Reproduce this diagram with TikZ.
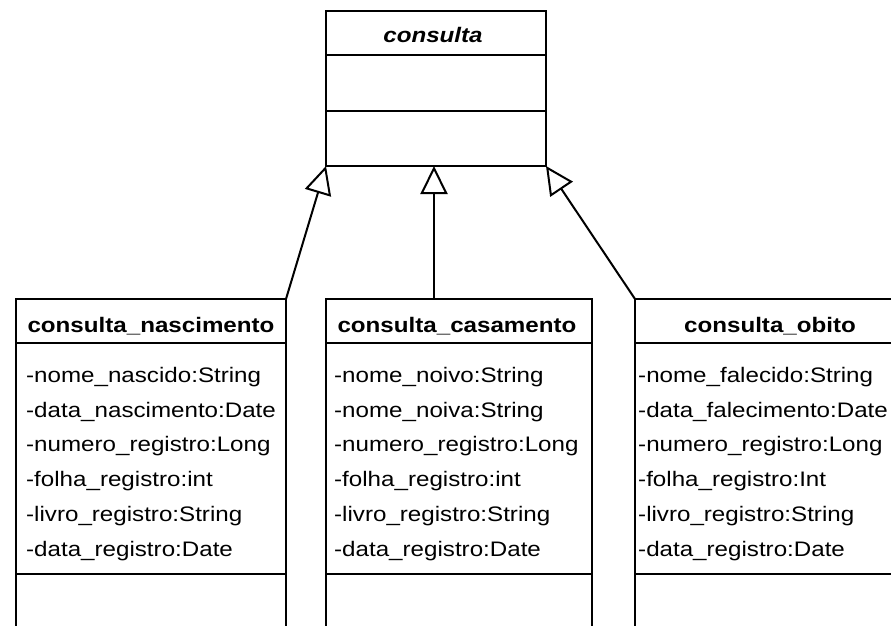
\documentclass[tikz,border=0pt]{standalone}
\usepackage{fontspec}
\setmainfont{Liberation Sans}
\newfontfamily\umlfont[FakeStretch=1.15]{Liberation Sans}
\usetikzlibrary{arrows.meta}
\tikzset{
  classbox/.style={draw, line width=2pt, rectangle, inner sep=0pt, outer sep=0pt, anchor=north west},
  divider/.style={line width=2pt},
  title/.style={anchor=base, inner sep=0pt, font=\umlfont\fontsize{21}{21}\selectfont\bfseries},
  attr/.style={anchor=base west, inner sep=0pt, font=\umlfont\fontsize{21}{21}\selectfont},
  inherit/.style={line width=2pt, -{Triangle[open, length=28pt, width=27pt, fill=white]}}
}
\begin{document}
\begin{tikzpicture}[x=1pt,y=-1pt]
\useasboundingbox (0,0) rectangle (891,626);
\clip (0,0) rectangle (891,626);
\fill[white] (0,0) rectangle (891,626);

% superclass
\node[classbox, minimum width=220pt, minimum height=155pt] (consulta) at (326,11) {};
\draw[divider] (326,55) -- (546,55);
\draw[divider] (326,111) -- (546,111);
\node[title, font=\umlfont\fontsize{21}{21}\selectfont\bfseries\itshape] (tconsulta) at (433,43) {consulta};

% subclasses
\node[classbox, minimum width=270pt, minimum height=340pt] (nasc) at (16,299) {};
\node[classbox, minimum width=266pt, minimum height=340pt] (casa) at (326,299) {};
\node[classbox, minimum width=270pt, minimum height=340pt] (obito) at (635,299) {};

\foreach \l/\r in {16/286, 326/592, 635/905}{
  \draw[divider] (\l,343) -- (\r,343);
  \draw[divider] (\l,574) -- (\r,574);
}

\node[title] (tnasc) at (151,332) {consulta\_nascimento};
\node[title] (tcasa) at (457,332) {consulta\_casamento};
\node[title] (tobito) at (770,332) {consulta\_obito};

% attributes
\node[attr] (n1) at (26,382) {-nome\_nascido:String};
\node[attr] (n2) at (26,417) {-data\_nascimento:Date};
\node[attr] (n3) at (26,451) {-numero\_registro:Long};
\node[attr] (n4) at (26,486) {-folha\_registro:int};
\node[attr] (n5) at (26,521) {-livro\_registro:String};
\node[attr] (n6) at (26,556) {-data\_registro:Date};

\node[attr] (c1) at (334,382) {-nome\_noivo:String};
\node[attr] (c2) at (334,417) {-nome\_noiva:String};
\node[attr] (c3) at (334,451) {-numero\_registro:Long};
\node[attr] (c4) at (334,486) {-folha\_registro:int};
\node[attr] (c5) at (334,521) {-livro\_registro:String};
\node[attr] (c6) at (334,556) {-data\_registro:Date};

\node[attr] (o1) at (638,382) {-nome\_falecido:String};
\node[attr] (o2) at (638,417) {-data\_falecimento:Date};
\node[attr] (o3) at (638,451) {-numero\_registro:Long};
\node[attr] (o4) at (638,486) {-folha\_registro:Int};
\node[attr] (o5) at (638,521) {-livro\_registro:String};
\node[attr] (o6) at (638,556) {-data\_registro:Date};

% generalisations
\draw[inherit] (nasc.north east) -- (consulta.south west);
\draw[inherit] (casa.north -| 434,0) -- (consulta.south -| 434,0);
\draw[inherit] (obito.north west) -- (consulta.south east);
\end{tikzpicture}
\end{document}
